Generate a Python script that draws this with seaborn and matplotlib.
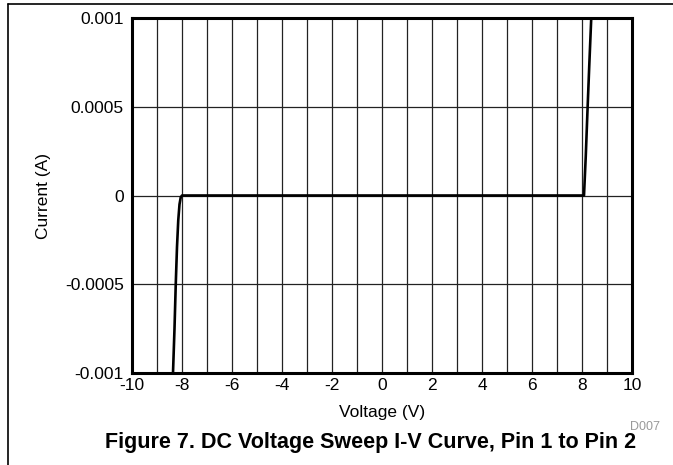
import numpy as np
import pandas as pd
import matplotlib
matplotlib.use("Agg")
import matplotlib.pyplot as plt
from matplotlib.lines import Line2D
import seaborn as sns

# I-V sweep, pin 1 to pin 2
voltage = [-8.36, -8.30, -8.25, -8.20, -8.15, -8.10, -8.05, -8.00,
           8.08, 8.15, 8.22, 8.29, 8.37]
current = [-0.001, -0.00075, -0.0005, -0.00029, -0.00014, -0.00005, -0.00001, 0.0,
           0.0, 0.00022, 0.00048, 0.00073, 0.001]

x_ticks = [-10, -8, -6, -4, -2, 0, 2, 4, 6, 8, 10]
y_ticks = [-0.001, -0.0005, 0, 0.0005, 0.001]
y_tick_labels = ["-0.001", "-0.0005", "0", "0.0005", "0.001"]

df = pd.DataFrame({"Voltage": voltage, "Current": current})

sns.set_theme(style="white")
plt.rcParams["font.family"] = ["Liberation Sans", "DejaVu Sans"]

fig = plt.figure(figsize=(6.73, 4.65), dpi=100)
ax = fig.add_axes([132 / 673, 1 - 373 / 465, 500 / 673, 355 / 465])

sns.lineplot(x="Voltage", y="Current", data=df, sort=False,
             color="black", linewidth=1.9, ax=ax)

ax.set_xlim(-10, 10)
ax.set_ylim(-0.001, 0.001)
ax.set_xticks(x_ticks)
ax.set_xticklabels([str(t) for t in x_ticks])
ax.set_xticks(np.arange(-10, 11, 1), minor=True)
ax.set_yticks(y_ticks)
ax.set_yticklabels(y_tick_labels)
ax.tick_params(axis="both", which="both", length=0, labelsize=12.5,
               colors="black", pad=6)
ax.tick_params(axis="x", pad=3.5)
ax.grid(True, which="both", color="#222222", linewidth=0.9)
ax.set_axisbelow(True)
for s in ax.spines.values():
    s.set_color("black")
    s.set_linewidth(2.2)

ax.set_xlabel("Voltage (V)", fontsize=12.5, color="black", labelpad=9)
ax.set_ylabel("Current (A)", fontsize=12.5, color="black", labelpad=10)

fig.text(660 / 673, 1 - 427 / 465, "D007", fontsize=9, color="#999999",
         ha="right", va="center")
fig.text(371 / 673, 1 - 442 / 465,
         "Figure 7. DC Voltage Sweep I-V Curve, Pin 1 to Pin 2",
         fontsize=15.5, fontweight="bold", color="black", ha="center", va="center")

# frame lines at the top and left of the figure
fig.add_artist(Line2D([8 / 673, 1], [1 - 4.5 / 465, 1 - 4.5 / 465],
                      transform=fig.transFigure, color="black", linewidth=1.2))
fig.add_artist(Line2D([8 / 673, 8 / 673], [0, 1 - 4.5 / 465],
                      transform=fig.transFigure, color="black", linewidth=1.2))

fig.savefig("out.png", dpi=100)
